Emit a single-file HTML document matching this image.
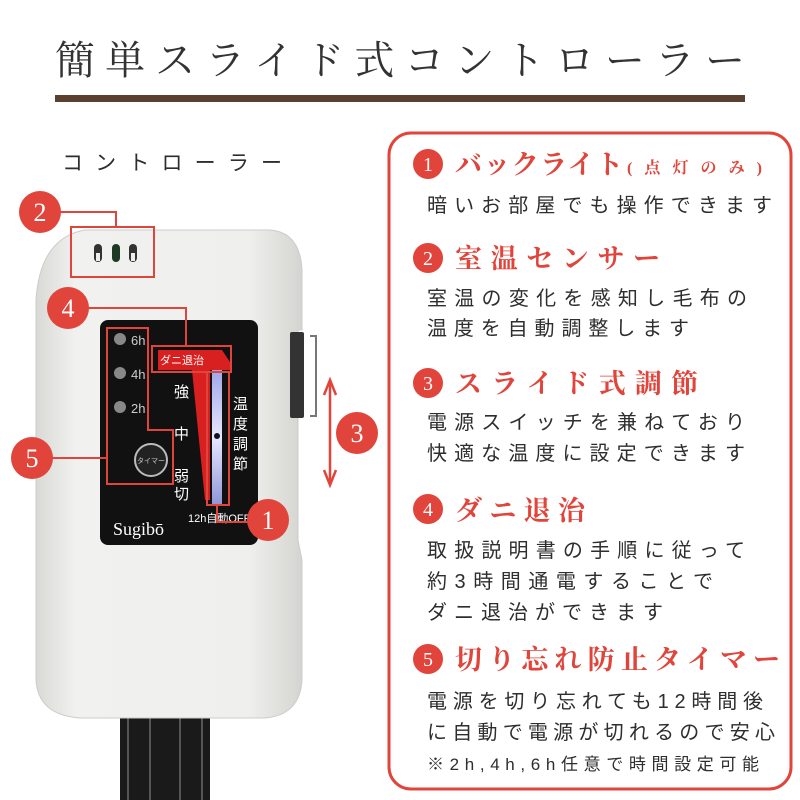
<!DOCTYPE html>
<html><head><meta charset="utf-8"><style>
html,body{margin:0;padding:0;background:#fff;}
svg{display:block;}
.t{font-family:"Liberation Sans","Noto Sans CJK JP",sans-serif;fill:#2e2e2e;}
.h{font-family:"Liberation Serif","Noto Serif CJK SC",serif;fill:#e0443a;font-weight:bold;}
.n{font-family:"Liberation Serif",serif;fill:#fff;font-size:20px;text-anchor:middle;}
</style></head><body>
<svg width="800" height="800" viewBox="0 0 800 800" xmlns="http://www.w3.org/2000/svg">
<defs>
<linearGradient id="body" x1="0" x2="1" y1="0" y2="0">
<stop offset="0" stop-color="#d9d9d6"/><stop offset="0.15" stop-color="#f1f1ef"/><stop offset="0.8" stop-color="#efefed"/><stop offset="1" stop-color="#d4d4d0"/>
</linearGradient>
<linearGradient id="bar" x1="0" x2="0" y1="0" y2="1">
<stop offset="0" stop-color="#9fa6e8"/><stop offset="0.5" stop-color="#e8e8ff"/><stop offset="1" stop-color="#8f96d8"/>
</linearGradient>
</defs>
<text x="55" y="74" font-family="Liberation Serif,Noto Serif CJK SC,serif" font-size="40" fill="#333" textLength="690" lengthAdjust="spacing">簡単スライド式コントローラー</text>
<rect x="55" y="95" width="690" height="7" fill="#5b3f2f"/>
<text class="t" x="62" y="170" font-size="21" textLength="220" lengthAdjust="spacing">コントローラー</text>

<rect x="120" y="690" width="90" height="110" fill="#1a1a1a"/>
<path d="M128 700 L128 800 M150 700 L150 800 M180 700 L180 800 M202 700 L202 800" stroke="#555" stroke-width="2"/>
<path d="M85 230 L270 230 Q300 232 302 270 L302 330 L298 330 L298 540 L302 560 L302 680 Q300 715 265 718 L80 718 Q38 715 36 680 L36 300 Q40 238 85 230 Z" fill="url(#body)" stroke="#ccc"/>
<rect x="290" y="332" width="14" height="86" fill="#333" rx="2"/>
<path d="M310 336 L316 336 L316 416 L310 416" fill="none" stroke="#777" stroke-width="2"/>
<rect x="94" y="244" width="8" height="18" rx="4" fill="#333"/><rect x="96" y="253" width="4" height="8" fill="#eee"/>
<rect x="112" y="244" width="8" height="18" rx="4" fill="#1d3a24"/>
<rect x="129" y="244" width="8" height="18" rx="4" fill="#333"/><rect x="131" y="253" width="4" height="8" fill="#eee"/>
<rect x="100" y="320" width="158" height="225" rx="8" fill="#111"/>
<circle cx="120" cy="339" r="6" fill="#888"/><text x="131" y="345" font-size="13" fill="#ccc" font-family="Liberation Sans">6h</text>
<circle cx="120" cy="373" r="6" fill="#888"/><text x="131" y="379" font-size="13" fill="#ccc" font-family="Liberation Sans">4h</text>
<circle cx="120" cy="407" r="6" fill="#888"/><text x="131" y="413" font-size="13" fill="#ccc" font-family="Liberation Sans">2h</text>
<circle cx="151" cy="460" r="16" fill="#222" stroke="#bbb" stroke-width="2"/>
<text x="151" y="463" font-size="7" text-anchor="middle" class="t" style="fill:#ccc">タイマー</text>
<path d="M158 350 L222 350 L230 362 L230 370 L210 370 L210 500 L205 500 L192 370 L158 370 Z" fill="#d92020"/>
<text x="160" y="364" font-size="11" class="t" style="fill:#fff">ダニ退治</text>
<rect x="212" y="370" width="10" height="135" fill="url(#bar)"/>
<circle cx="217" cy="436" r="3" fill="#112"/>
<g class="t" font-size="15">
<text x="174" y="397" style="fill:#fff">強</text><text x="174" y="439" style="fill:#fff">中</text>
<text x="174" y="481" style="fill:#fff">弱</text><text x="174" y="499" style="fill:#fff">切</text>
<text x="233" y="409" style="fill:#fff">温</text><text x="233" y="429" style="fill:#fff">度</text>
<text x="233" y="449" style="fill:#fff">調</text><text x="233" y="469" style="fill:#fff">節</text>
</g>
<text x="188" y="522" font-size="11" class="t" style="fill:#fff">12h自動OFF</text>
<text x="113" y="535" font-size="18" fill="#fff" font-family="Liberation Serif,serif">Sugibō</text>

<g fill="none" stroke="#e0443a" stroke-width="2">
<path d="M60 212 L116 212 L116 227"/><rect x="71" y="227" width="83" height="50"/>
<path d="M88 308 L186 308 L186 346"/><rect x="152" y="346" width="79" height="26"/>
<path d="M52 458 L107 458"/><path d="M107 328 L148 328 L148 430 L173 430 L173 484 L107 484 Z"/>
<path d="M207 372 L207 505 L229 505 L229 372"/><path d="M217 505 L217 522 L248 522"/>
</g>
<path d="M330 383 L330 482" stroke="#e0443a" stroke-width="2.5"/>
<path d="M324 395 L330 380 L336 395 M324 470 L330 485 L336 470" fill="none" stroke="#e0443a" stroke-width="2.5"/>
<g fill="#e0443a">
<circle cx="40" cy="212" r="21"/><circle cx="68" cy="308" r="21"/><circle cx="32" cy="458" r="21"/>
<circle cx="268" cy="520" r="21"/><circle cx="357" cy="433" r="21"/>
</g>
<g class="n">
<text x="40" y="221" font-size="26">2</text><text x="68" y="317" font-size="26">4</text><text x="32" y="467" font-size="26">5</text>
<text x="268" y="529" font-size="26">1</text><text x="357" y="442" font-size="26">3</text>
</g>

<rect x="389" y="133" width="402" height="656" rx="22" fill="none" stroke="#e0443a" stroke-width="3"/>
<g fill="#e0443a">
<circle cx="428" cy="164" r="15"/><circle cx="428" cy="258" r="15"/><circle cx="428" cy="383" r="15"/>
<circle cx="428" cy="509" r="15"/><circle cx="428" cy="659" r="15"/>
</g>
<text class="n" x="428" y="171">1</text><text class="n" x="428" y="265">2</text><text class="n" x="428" y="390">3</text>
<text class="n" x="428" y="516">4</text><text class="n" x="428" y="666">5</text>

<text class="h" x="455" y="174" font-size="27" textLength="168" lengthAdjust="spacing">バックライト</text>
<text class="h" x="627" y="173" font-size="16" textLength="135" lengthAdjust="spacing">(点灯のみ)</text>
<text class="h" x="455" y="268" font-size="27" textLength="205" lengthAdjust="spacing">室温センサー</text>
<text class="h" x="455" y="393" font-size="27" textLength="243" lengthAdjust="spacing">スライド式調節</text>
<text class="h" x="455" y="520" font-size="27" textLength="130" lengthAdjust="spacing">ダニ退治</text>
<text class="h" x="455" y="669" font-size="27" textLength="325" lengthAdjust="spacing">切り忘れ防止タイマー</text>

<g class="t" font-size="20">
<text x="427" y="212" textLength="345" lengthAdjust="spacing">暗いお部屋でも操作できます</text>
<text x="427" y="305" textLength="320" lengthAdjust="spacing">室温の変化を感知し毛布の</text>
<text x="427" y="335" textLength="262" lengthAdjust="spacing">温度を自動調整します</text>
<text x="427" y="429" textLength="318" lengthAdjust="spacing">電源スイッチを兼ねており</text>
<text x="427" y="460" textLength="318" lengthAdjust="spacing">快適な温度に設定できます</text>
<text x="427" y="557" textLength="318" lengthAdjust="spacing">取扱説明書の手順に従って</text>
<text x="427" y="588" textLength="286" lengthAdjust="spacing">約3時間通電することで</text>
<text x="427" y="619" textLength="236" lengthAdjust="spacing">ダニ退治ができます</text>
<text x="427" y="708" textLength="336" lengthAdjust="spacing">電源を切り忘れても12時間後</text>
<text x="427" y="739" textLength="348" lengthAdjust="spacing">に自動で電源が切れるので安心</text>
<text x="427" y="770" font-size="17" textLength="332" lengthAdjust="spacing">※2h,4h,6h任意で時間設定可能</text>
</g>
</svg>
</body></html>
